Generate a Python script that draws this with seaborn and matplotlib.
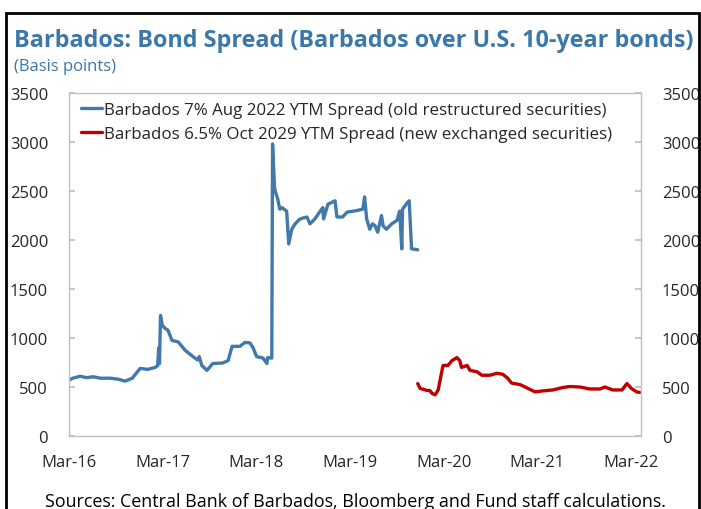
import pandas as pd
import seaborn as sns
import matplotlib.pyplot as plt
import matplotlib.dates as mdates
from matplotlib.patches import Rectangle

# old restructured securities (7% Aug 2022)
old_dates = ['2016-03-01', '2016-03-16', '2016-04-13', '2016-05-10', '2016-06-03', '2016-07-01',
             '2016-08-09', '2016-09-09', '2016-10-06', '2016-11-03', '2016-11-15', '2016-12-04',
             '2017-01-01', '2017-02-01', '2017-02-10', '2017-02-14', '2017-02-17', '2017-02-21',
             '2017-02-28', '2017-03-10', '2017-03-22', '2017-04-07', '2017-05-01', '2017-05-28',
             '2017-06-28', '2017-07-16', '2017-07-22', '2017-08-01', '2017-08-21', '2017-09-13',
             '2017-10-22', '2017-11-12', '2017-11-27', '2017-12-28', '2018-01-16', '2018-02-05',
             '2018-02-17', '2018-03-03', '2018-03-28', '2018-04-12', '2018-04-15', '2018-05-01',
             '2018-05-04', '2018-05-12', '2018-05-24', '2018-06-01', '2018-06-10', '2018-06-28',
             '2018-07-06', '2018-07-18', '2018-07-31', '2018-08-19', '2018-09-15', '2018-09-27',
             '2018-10-16', '2018-11-06', '2018-11-16', '2018-11-19', '2018-12-06', '2019-01-03',
             '2019-01-10', '2019-02-01', '2019-02-19', '2019-03-28', '2019-04-21', '2019-04-28',
             '2019-05-06', '2019-05-18', '2019-05-29', '2019-06-08', '2019-06-18', '2019-07-03',
             '2019-07-09', '2019-07-22', '2019-08-12', '2019-09-01', '2019-09-12', '2019-09-20',
             '2019-09-23', '2019-10-13', '2019-10-19', '2019-10-28', '2019-11-21']
old_spread = [570, 590, 610, 595, 605, 590,
              590, 580, 560, 590, 630, 690,
              680, 700, 720, 900, 740, 1230,
              1130, 1100, 1080, 975, 960, 875,
              810, 775, 810, 720, 670, 740,
              745, 770, 915, 915, 955, 950,
              900, 810, 795, 740, 800, 795,
              2980, 2520, 2420, 2315, 2330, 2295,
              1960, 2110, 2165, 2215, 2235, 2165,
              2215, 2295, 2330, 2215, 2365, 2400,
              2235, 2235, 2285, 2300, 2315, 2440,
              2215, 2110, 2165, 2145, 2080, 2250,
              2145, 2110, 2165, 2200, 2295, 1910,
              2315, 2385, 2400, 1910, 1900]

# new exchanged securities (6.5% Oct 2029)
new_dates = ['2019-11-21', '2019-12-01', '2019-12-28', '2020-01-07', '2020-01-16', '2020-01-28',
             '2020-02-09', '2020-02-24', '2020-02-28', '2020-03-18', '2020-04-03', '2020-04-22',
             '2020-05-03', '2020-05-10', '2020-06-01', '2020-06-12', '2020-07-10', '2020-07-28',
             '2020-08-28', '2020-09-25', '2020-10-18', '2020-11-06', '2020-11-21', '2020-12-24',
             '2021-01-21', '2021-02-21', '2021-03-22', '2021-05-01', '2021-06-09', '2021-07-06',
             '2021-08-15', '2021-09-22', '2021-11-01', '2021-11-20', '2021-12-21', '2022-01-26',
             '2022-02-14', '2022-03-04', '2022-03-24', '2022-04-04']
new_spread = [535, 485, 465, 465, 435, 420,
              470, 670, 720, 720, 770, 800,
              770, 700, 720, 670, 655, 620,
              620, 640, 630, 590, 540, 525,
              490, 450, 460, 470, 495, 505,
              500, 480, 480, 500, 470, 470,
              535, 485, 450, 445]

old_label = 'Barbados 7% Aug 2022 YTM Spread (old restructured securities)'
new_label = 'Barbados 6.5% Oct 2029 YTM Spread (new exchanged securities)'
tick_years = [2016, 2017, 2018, 2019, 2020, 2021, 2022]

BLUE = '#4179AB'
RED = '#C00000'
TITLE_BLUE = '#3B78AA'

sns.set_theme(style='white')
plt.rcParams['font.family'] = ['Open Sans', 'DejaVu Sans']

df_old = pd.DataFrame({'date': pd.to_datetime(old_dates), 'spread': old_spread})
df_new = pd.DataFrame({'date': pd.to_datetime(new_dates), 'spread': new_spread})

fig = plt.figure(figsize=(7.01, 5.10), dpi=100)
ax = fig.add_axes([0.0984, 0.1431, 0.8160, 0.6726])

sns.lineplot(data=df_old, x='date', y='spread', ax=ax, color=BLUE, lw=2.4, label=old_label)
sns.lineplot(data=df_new, x='date', y='spread', ax=ax, color=RED, lw=2.4, label=new_label)

ax.set_ylim(0, 3500)
ax.set_yticks(range(0, 3501, 500))
ax.set_xlim(pd.Timestamp('2016-03-01'), pd.Timestamp('2022-04-10'))
ax.set_xticks([pd.Timestamp(f'{y}-03-01') for y in tick_years])
ax.xaxis.set_major_formatter(mdates.DateFormatter('%b-%y'))
ax.set_xlabel('')
ax.set_ylabel('')

for s in ax.spines.values():
    s.set_color('#BFBFBF')
    s.set_linewidth(1.0)
ax.tick_params(axis='y', which='both', direction='in', length=4, color='#BFBFBF',
               left=True, right=True, labelleft=True, labelright=True,
               labelsize=12, pad=15)
ax.tick_params(axis='x', direction='in', length=4, color='#BFBFBF', labelsize=12, pad=13)

leg = ax.legend(loc='upper left', bbox_to_anchor=(0.005, 1.0), frameon=False, fontsize=12.2,
                handlelength=1.25, handletextpad=0.1, labelspacing=0.45, borderaxespad=0.15)

fig.text(0.02, 0.92, 'Barbados: Bond Spread (Barbados over U.S. 10-year bonds)',
         fontsize=16.8, fontweight='bold', color=TITLE_BLUE, va='center', ha='left')
fig.text(0.02, 0.868, '(Basis points)', fontsize=12, color=TITLE_BLUE, va='center', ha='left')
fig.text(0.064, 0.016, 'Sources: Central Bank of Barbados, Bloomberg and Fund staff calculations.',
         fontsize=12.9, color='black', va='center', ha='left')

fig.patches.append(Rectangle((5.5 / 701, -0.02), 693.5 / 701, 1 - 14 / 510 + 0.02,
                             transform=fig.transFigure, fill=False, edgecolor='black',
                             linewidth=2, clip_on=False))

fig.savefig('out.png', dpi=100)
